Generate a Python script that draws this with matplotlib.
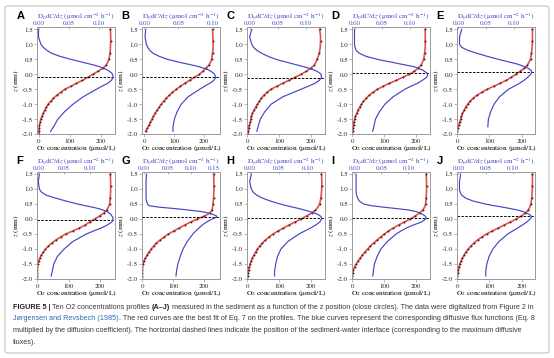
import matplotlib
matplotlib.use("Agg")
import matplotlib.pyplot as plt
from matplotlib.patches import FancyBboxPatch
from matplotlib.ticker import MultipleLocator, FormatStrFormatter
import numpy as np

nan = np.nan

panels = ["A", "B", "C", "D", "E", "F", "G", "H", "I", "J"]

# depth grids (mm)
z_red = [1.5, 1.3, 1.1, 0.9, 0.7, 0.5, 0.4, 0.3, 0.2, 0.1, 0.0, -0.1, -0.2, -0.3, -0.4, -0.5,
         -0.6, -0.7, -0.8, -0.9, -1.0, -1.1, -1.2, -1.3, -1.4, -1.5, -1.6, -1.7, -1.8, -1.9, -2.0]
z_blue = [1.5, 1.25, 1.0, 0.9, 0.8, 0.7, 0.6, 0.5, 0.45, 0.4, 0.35, 0.3, 0.25, 0.2, 0.15, 0.1,
          0.05, 0.0, -0.1, -0.2, -0.3, -0.4, -0.5, -0.75, -1.0, -1.25, -1.5, -1.75, -1.9]

# O2 concentration (umol/L) read along z_red
red_A = [232, 233, 233, 232, 231, 227, 223, 218, 207, 191, 175, 159, 141, 122, 103, 84,
         71, 58, 47, 38, 30, 24, 19, 14, 10, 6, 4, 2, 1, 0, 0]
red_B = [228, 229, 230, 230, 228, 225, 221, 215, 205, 195, 184, 167, 151, 135, 120, 106,
         94, 83, 73, 64, 56, 49, 42, 36, 30, 25, 20, 15, 9, 4, nan]
red_C = [227, 230, 230, 229, 226, 219, 215, 210, 199, 185, 169, 150, 131, 111, 92, 74,
         62, 52, 44, 38, 32, 26, 21, 16, 13, 11, 9, 6, 4, 3, 2]
red_D = [230, 230, 230, 230, 228, 225, 221, 216, 207, 195, 179, 159, 138, 117, 97, 79,
         65, 53, 43, 35, 29, 23, 18, 14, 10, 7, 5, 4, 2, 1, 0]
red_E = [234, 234, 234, 233, 231, 228, 223, 218, 208, 196, 182, 168, 152, 133, 113, 93,
         76, 61, 49, 39, 32, 26, 21, 16, 13, 10, 7, 4, 1, 0, nan]
red_F = [232, 233, 233, 233, 232, 230, 226, 221, 211, 198, 182, 166, 152, 134, 112, 90,
         74, 59, 46, 35, 26, 19, 13, 8, 4, 1, 0, 0, 0, 0, 0]
red_G = [232, 233, 233, 233, 232, 230, 229, 227, 220, 202, 179, 157, 138, 120, 102, 85,
         71, 58, 46, 37, 29, 22, 16, 10, 5, 2, 0, 0, 0, 0, 0]
red_H = [233, 234, 234, 233, 231, 227, 222, 214, 202, 186, 168, 150, 131, 113, 96, 81,
         68, 57, 47, 39, 32, 26, 21, 16, 12, 9, 6, 4, 2, 1, 0]
red_I = [233, 234, 234, 234, 233, 231, 228, 222, 212, 198, 182, 164, 146, 129, 114, 101,
         89, 78, 67, 57, 48, 40, 32, 25, 18, 12, 7, 3, 1, 0, 0]
red_J = [234, 234, 234, 233, 232, 229, 226, 221, 212, 199, 183, 165, 146, 127, 108, 91,
         76, 63, 52, 42, 34, 27, 21, 16, 12, 8, 5, 3, 1, 0, 0]

# diffusive flux (umol cm-2 h-1) read along z_blue
blue_A = [0.000, 0.000, 0.004, 0.008, 0.014, 0.022, 0.036, 0.054, 0.064, 0.074, 0.084, 0.094,
          0.102, 0.109, 0.114, 0.118, 0.121, 0.123, 0.124, 0.121, 0.115, 0.105, 0.096, 0.074,
          0.057, 0.043, 0.032, 0.025, 0.020]
blue_B = [0.002, 0.001, 0.003, 0.005, 0.008, 0.013, 0.022, 0.034, 0.043, 0.052, 0.062, 0.072,
          0.081, 0.088, 0.094, 0.098, 0.101, 0.103, 0.105, 0.102, 0.096, 0.088, 0.081, 0.064,
          0.054, 0.048, 0.044, 0.042, 0.042]
blue_C = [0.004, 0.000, 0.004, 0.007, 0.013, 0.022, 0.033, 0.047, 0.057, 0.067, 0.077, 0.087,
          0.097, 0.106, 0.114, 0.120, 0.124, 0.127, 0.128, 0.124, 0.116, 0.104, 0.091, 0.059,
          0.038, 0.027, 0.019, 0.015, 0.013]
blue_D = [0.000, 0.000, 0.000, 0.001, 0.003, 0.009, 0.021, 0.042, 0.055, 0.069, 0.082, 0.096,
          0.109, 0.117, 0.123, 0.127, 0.131, 0.133, 0.131, 0.123, 0.114, 0.102, 0.091, 0.070,
          0.055, 0.045, 0.038, 0.035, 0.033]
blue_E = [0.006, 0.002, 0.002, 0.006, 0.017, 0.034, 0.052, 0.072, 0.083, 0.094, 0.105, 0.113,
          0.120, 0.126, 0.130, 0.132, 0.132, 0.130, 0.125, 0.118, 0.110, 0.100, 0.090, 0.074,
          0.064, 0.058, 0.054, 0.053, nan]
blue_F = [0.002, 0.000, 0.002, 0.006, 0.015, 0.033, 0.054, 0.077, 0.090, 0.104, 0.117, 0.126,
          0.133, 0.138, 0.141, 0.143, 0.145, 0.145, 0.143, 0.134, 0.122, 0.107, 0.093, 0.067,
          0.050, 0.037, 0.030, 0.027, 0.025]
blue_G = [0.005, 0.004, 0.004, 0.004, 0.004, 0.004, 0.005, 0.007, 0.010, 0.030, 0.065, 0.095,
          0.122, 0.138, 0.148, 0.155, 0.153, 0.145, 0.133, 0.124, 0.117, 0.110, 0.104, 0.092,
          0.083, 0.077, 0.072, 0.069, 0.068]
blue_H = [0.003, 0.000, 0.003, 0.006, 0.012, 0.022, 0.036, 0.053, 0.063, 0.074, 0.085, 0.095,
          0.104, 0.112, 0.118, 0.122, 0.124, 0.124, 0.121, 0.114, 0.105, 0.095, 0.085, 0.066,
          0.054, 0.048, 0.045, 0.043, 0.043]
blue_I = [0.003, 0.003, 0.003, 0.003, 0.004, 0.006, 0.009, 0.017, 0.030, 0.052, 0.078, 0.101,
          0.114, 0.122, 0.127, 0.131, 0.133, 0.132, 0.124, 0.109, 0.096, 0.086, 0.077, 0.061,
          0.049, 0.042, 0.037, 0.035, 0.034]
blue_J = [0.004, 0.002, 0.002, 0.003, 0.006, 0.013, 0.027, 0.050, 0.064, 0.080, 0.095, 0.108,
          0.118, 0.125, 0.130, 0.133, 0.133, 0.131, 0.125, 0.117, 0.108, 0.099, 0.090, 0.074,
          0.063, 0.056, 0.052, 0.050, 0.050]

# sediment-water interface (mm)
interface = [-0.10, -0.10, -0.12, 0.03, 0.07, -0.03, 0.07, 0.05, 0.05, 0.10]

conc_ticks = [0, 100, 200]
z_ticks = [-2.0, -1.5, -1.0, -0.5, 0.0, 0.5, 1.0, 1.5]

red_data = dict(zip(panels, [red_A, red_B, red_C, red_D, red_E, red_F, red_G, red_H, red_I, red_J]))
blue_data = dict(zip(panels, [blue_A, blue_B, blue_C, blue_D, blue_E, blue_F, blue_G, blue_H, blue_I, blue_J]))

# axis ranges per panel
conc_lim = [(-5, 247), (-7, 253), (0.5, 244), (0.5, 245), (0.5, 242),
            (0.5, 247), (0.5, 253), (0.5, 244), (0.5, 245), (0.5, 242)]
flux_lim = [(-0.002, 0.127), (-0.003, 0.111), (-0.004, 0.134), (-0.004, 0.137), (-0.002, 0.138),
            (-0.002, 0.149), (-0.004, 0.162), (-0.004, 0.130), (-0.004, 0.140), (-0.002, 0.140)]

# measured points shown as dots (indices into z_red)
dot_idx = [0, 2, 4, 5, 7, 8, 9, 10, 11, 12, 13, 14, 15, 16, 17, 18, 19, 20, 21, 22, 23, 24,
           25, 26, 27, 28, 29, 30]

W, H = 554, 358
col_left = [37.3, 142.3, 247.3, 352.3, 457.3]
row_top = [27.3, 172.0]
ax_w, ax_h = 77.7, 107.0

RED = "#de5250"
DOT = "#5a1818"
BLUE = "#4545c6"
SPINE = "#9a9a9a"

plt.rcParams["font.family"] = "STIXGeneral"
plt.rcParams["mathtext.fontset"] = "stix"
plt.rcParams["axes.unicode_minus"] = True

fig = plt.figure(figsize=(W / 100, H / 100), dpi=100)

frame = FancyBboxPatch((5 / W, 5 / H), 544 / W, 347 / H, boxstyle="round,pad=0,rounding_size=0.006",
                       transform=fig.transFigure, fill=False, edgecolor="#c8c8c8", lw=0.9)
fig.patches.append(frame)

for i, key in enumerate(panels):
    row, col = divmod(i, 5)
    ax = fig.add_axes([col_left[col] / W, 1 - (row_top[row] + ax_h) / H, ax_w / W, ax_h / H])
    red = red_data[key]
    ax.plot(red, z_red, color=RED, lw=1.2, zorder=2)
    ax.plot([red[k] for k in dot_idx], [z_red[k] for k in dot_idx], "o", ms=1.4,
            color=DOT, mew=0, zorder=3)
    ax.axhline(interface[i], color="k", ls=(0, (2.5, 1.5)), lw=0.7, zorder=4)
    ax.set_xlim(*conc_lim[i])
    ax.set_ylim(-2.0, 1.57)
    ax.set_xticks(conc_ticks)
    ax.set_yticks(z_ticks)
    ax.yaxis.set_major_formatter(FormatStrFormatter("%.1f"))
    ax.set_xlabel(r"O$_2$ concentration (μmol/L)", fontsize=5.3, labelpad=0)
    ax.set_ylabel(r"$z$ (mm)", fontsize=5.3, labelpad=1)
    ax.tick_params(labelsize=5.0, length=2, width=0.5, pad=1, color=SPINE, labelcolor="#222222")

    ax2 = ax.twiny()
    ax2.plot(blue_data[key], z_blue, color=BLUE, lw=0.85, zorder=2)
    ax2.set_xlim(*flux_lim[i])
    ax2.xaxis.set_major_locator(MultipleLocator(0.05))
    ax2.xaxis.set_major_formatter(FormatStrFormatter("%.2f"))
    ax2.set_xlabel(r"D$_0$d$C$/d$z$ (μmol cm$^{-2}$ h$^{-1}$)", fontsize=5.2, color=BLUE, labelpad=1.5)
    ax2.tick_params(labelsize=5.0, length=1.5, width=0.5, pad=0.6, direction="in",
                    color=SPINE, labelcolor=BLUE)
    for a in (ax, ax2):
        for s in a.spines.values():
            s.set_color(SPINE)
            s.set_linewidth(0.6)

    fig.text((col_left[col] - 21) / W, 1 - (row_top[row] - 11) / H, key, fontsize=8,
             fontweight="bold", family="Liberation Sans", ha="left", va="center")

# caption
CAP = "#3a3a3a"
LINK = "#2f6db5"
caption = [
    [("FIGURE 5 | ", dict(fontweight="bold", color="#222222")),
     ("Ten O2 concentrations profiles ", dict(color=CAP)),
     ("(A–J)", dict(fontweight="bold", color="#222222")),
     (" measured in the sediment as a function of the z position (close circles). The data were digitalized from Figure 2 in", dict(color=CAP))],
    [("Jørgensen and Revsbech (1985)", dict(color=LINK)),
     (". The red curves are the best fit of Eq. 7 on the profiles. The blue curves represent the corresponding diffusive flux functions (Eq. 8", dict(color=CAP))],
    [("multiplied by the diffusion coefficient). The horizontal dashed lines indicate the position of the sediment-water interface (corresponding to the maximum diffusive", dict(color=CAP))],
    [("fluxes).", dict(color=CAP))],
]
line_y = [309, 320.5, 332, 343.5]

renderer = fig.canvas.get_renderer()
for runs, y in zip(caption, line_y):
    x = 13
    for s, kw in runs:
        t = fig.text(x / W, 1 - y / H, s, fontsize=5.2, family="Liberation Sans",
                     ha="left", va="baseline", **kw)
        x += t.get_window_extent(renderer).width

fig.savefig("out.png", dpi=100)
